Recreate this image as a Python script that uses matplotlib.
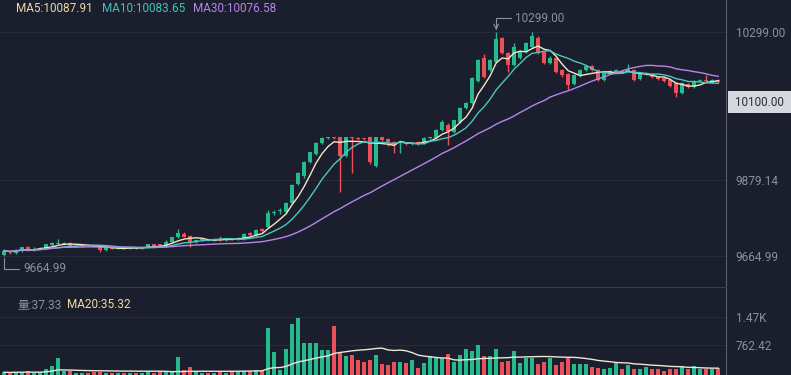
import numpy as np
import pandas as pd
import matplotlib
matplotlib.use("Agg")
import matplotlib.pyplot as plt

# OHLC + volume (one entry per candle)
opens = [9668, 9680, 9674, 9681, 9692, 9683, 9686, 9686, 9697, 9699,
         9699, 9702, 9692, 9694, 9696, 9695, 9694, 9683, 9690, 9686,
         9688, 9686, 9690, 9687, 9689, 9698, 9698, 9694, 9704, 9718,
         9728, 9722, 9704, 9710, 9712, 9710, 9713, 9711, 9714, 9713,
         9714, 9730, 9724, 9742, 9748, 9788, 9792, 9790, 9815, 9868,
         9890, 9930, 9952, 9985, 9999, 10000, 10000, 9948, 10000, 9998,
         9996, 10000, 9920, 10000, 9996, 9988, 9985, 9984, 9982, 9986,
         9985, 9999, 9998, 10020, 10035, 10015, 10045, 10082, 10097, 10160,
         10224, 10190, 10212, 10280, 10238, 10205, 10225, 10240, 10255, 10282,
         10240, 10210, 10225, 10190, 10180, 10150, 10175, 10190, 10202, 10190,
         10162, 10182, 10185, 10186, 10188, 10190, 10165, 10179, 10180, 10170,
         10168, 10162, 10155, 10125, 10150, 10142, 10158, 10161, 10155, 10162]
closes = [9680, 9676, 9683, 9690, 9682, 9686, 9688, 9698, 9702, 9703,
          9702, 9692, 9694, 9697, 9695, 9692, 9682, 9690, 9686, 9688,
          9687, 9690, 9687, 9689, 9698, 9695, 9693, 9704, 9718, 9731,
          9720, 9705, 9710, 9712, 9710, 9713, 9711, 9714, 9713, 9716,
          9728, 9724, 9740, 9735, 9787, 9790, 9795, 9815, 9865, 9900,
          9932, 9958, 9985, 9998, 10000, 9999, 9948, 10000, 9999, 9997,
          9995, 9930, 10000, 9992, 9988, 9978, 9986, 9982, 9985, 9983,
          9998, 10000, 10022, 10043, 10018, 10048, 10083, 10097, 10168, 10218,
          10170, 10218, 10278, 10238, 10205, 10255, 10242, 10268, 10285, 10240,
          10210, 10225, 10185, 10175, 10148, 10175, 10190, 10202, 10190, 10162,
          10183, 10188, 10190, 10185, 10189, 10162, 10178, 10180, 10170, 10165,
          10160, 10145, 10125, 10153, 10142, 10160, 10163, 10160, 10162, 10157]
highs = [9684, 9683, 9686, 9692, 9694, 9690, 9691, 9700, 9706, 9714,
         9705, 9704, 9696, 9699, 9699, 9697, 9696, 9692, 9692, 9690,
         9690, 9692, 9692, 9691, 9700, 9700, 9700, 9712, 9720, 9742,
         9732, 9724, 9712, 9714, 9714, 9715, 9722, 9716, 9716, 9718,
         9730, 9732, 9742, 9744, 9795, 9796, 9800, 9818, 9868, 9903,
         9935, 9960, 9988, 10001, 10002, 10002, 10002, 10002, 10002, 10001,
         9999, 10002, 10002, 10002, 9998, 9990, 9990, 9988, 9987, 9989,
         10000, 10002, 10025, 10050, 10040, 10050, 10085, 10100, 10172, 10222,
         10235, 10222, 10299, 10284, 10240, 10266, 10246, 10270, 10297, 10286,
         10243, 10230, 10228, 10192, 10182, 10178, 10193, 10205, 10205, 10193,
         10186, 10191, 10193, 10190, 10208, 10193, 10181, 10184, 10182, 10172,
         10170, 10164, 10157, 10156, 10153, 10162, 10166, 10175, 10164, 10164]
lows = [9664.99, 9672, 9672, 9678, 9680, 9680, 9684, 9684, 9695, 9698,
        9696, 9690, 9690, 9692, 9693, 9690, 9676, 9681, 9684, 9685,
        9685, 9684, 9685, 9685, 9687, 9693, 9690, 9692, 9702, 9716,
        9718, 9690, 9702, 9708, 9708, 9708, 9709, 9709, 9711, 9711,
        9712, 9722, 9722, 9732, 9745, 9782, 9785, 9787, 9812, 9865,
        9886, 9928, 9950, 9982, 9997, 9997, 9846, 9945, 9900, 9994,
        9992, 9926, 9916, 9990, 9975, 9955, 9955, 9978, 9978, 9980,
        9983, 9997, 9996, 10018, 9980, 10012, 10042, 10080, 10095, 10157,
        10167, 10188, 10210, 10235, 10185, 10203, 10222, 10238, 10252, 10237,
        10206, 10207, 10182, 10172, 10134, 10147, 10172, 10188, 10187, 10159,
        10160, 10180, 10183, 10182, 10185, 10159, 10163, 10177, 10167, 10162,
        10157, 10142, 10115, 10122, 10139, 10140, 10156, 10157, 10153, 10154]
volumes = [70, 60, 80, 70, 90, 60, 70, 140, 240, 420,
           100, 100, 60, 50, 60, 70, 80, 60, 50, 60,
           50, 60, 50, 60, 70, 60, 80, 70, 90, 450,
           120, 210, 80, 60, 50, 60, 70, 60, 70, 80,
           90, 100, 130, 100, 1180, 570, 130, 660, 1300, 1440,
           800, 800, 800, 640, 620, 1230, 590, 470, 500, 380,
           320, 380, 500, 280, 250, 320, 320, 300, 380, 180,
           300, 470, 420, 420, 530, 330, 500, 660, 600, 750,
           470, 480, 660, 330, 350, 600, 300, 440, 440, 280,
           320, 430, 250, 330, 440, 280, 280, 280, 210, 180,
           140, 180, 300, 140, 250, 160, 140, 200, 160, 160,
           110, 160, 160, 220, 160, 220, 140, 150, 140, 170]

price_ticks = [10299.00, 9879.14, 9664.99]
price_tick_labels = ["10299.00", "9879.14", "9664.99"]
vol_ticks = [1470, 762.42]
vol_tick_labels = ["1.47K", "762.42"]

BG = "#1b1e2c"
GREEN = "#26b98c"
RED = "#e9505a"
GRID = "#262a3a"
TXT = "#8c909c"

df = pd.DataFrame({"open": opens, "close": closes, "high": highs, "low": lows, "vol": volumes})
x = np.arange(len(df))
up = df["close"] >= df["open"]
colors = np.where(up, GREEN, RED)
ma5 = df["close"].rolling(5, min_periods=1).mean()
ma10 = df["close"].rolling(10, min_periods=1).mean()
ma30 = df["close"].rolling(30, min_periods=1).mean()
vma20 = df["vol"].rolling(20, min_periods=1).mean()

W, H = 791, 375
fig = plt.figure(figsize=(W / 100, H / 100), dpi=100, facecolor=BG)
plot_w = 726 / W
ax = fig.add_axes([0, 88 / H, plot_w, 287 / H], facecolor=BG)
axv = fig.add_axes([0, 0, plot_w, 87 / H], facecolor=BG)

# candles
body_lo = np.minimum(df["open"], df["close"])
body_h = np.maximum((df["close"] - df["open"]).abs(), 2.5)
ax.vlines(x, df["low"], df["high"], colors=colors, linewidth=1, zorder=2)
ax.bar(x, body_h, bottom=body_lo, width=0.65, color=colors, linewidth=0, zorder=3)
ax.plot(x, ma5, color="#f2e6c4", lw=1, zorder=4)
ax.plot(x, ma10, color="#4cc7bf", lw=1, zorder=4)
ax.plot(x, ma30, color="#b886ea", lw=1, zorder=4)

ax.set_xlim(-0.67, 120.3)
ax.set_ylim(9578, 10388)
ax.set_yticks(price_ticks)
ax.set_yticklabels(price_tick_labels)
ax.grid(axis="y", color=GRID, lw=0.8)
ax.set_xticks([])

# volume
axv.bar(x, df["vol"], width=0.65, color=colors, linewidth=0, zorder=3)
axv.plot(x, vma20, color="#ece6d6", lw=1, zorder=4)
axv.set_xlim(-0.67, 120.3)
axv.set_ylim(0, 2200)
axv.set_yticks(vol_ticks)
axv.set_yticklabels(vol_tick_labels)
axv.grid(axis="y", color=GRID, lw=0.8)
axv.set_xticks([])

for a in (ax, axv):
    a.yaxis.tick_right()
    a.tick_params(axis="y", length=0, pad=7, labelsize=8.5, labelcolor=TXT)
    for lab in a.get_yticklabels():
        lab.set_family("Roboto")
    for s in ("top", "left"):
        a.spines[s].set_visible(False)
    a.spines["right"].set_color("#5a5e6b")
    a.spines["bottom"].set_color("#3a3e4c")
    a.set_axisbelow(True)
axv.spines["bottom"].set_visible(False)

# high / low markers
hi = int(np.argmax(highs))
lo = int(np.argmin(lows))
ax.annotate(f"{highs[hi]:.2f}", xy=(hi, highs[hi]), xytext=(hi + 3.2, 10337),
            color=TXT, fontsize=8.5, family="Roboto", va="center",
            arrowprops=dict(arrowstyle="->", color=TXT, lw=0.8, shrinkA=1, shrinkB=1,
                            connectionstyle="angle,angleA=0,angleB=90,rad=0"))
ax.annotate(f"{lows[lo]:.2f}", xy=(lo, lows[lo]), xytext=(lo + 3.2, 9630),
            color=TXT, fontsize=8.5, family="Roboto", va="center",
            arrowprops=dict(arrowstyle="-", color=TXT, lw=0.8, shrinkA=1, shrinkB=1,
                            connectionstyle="angle,angleA=0,angleB=90,rad=0"))

# current price box on the axis
ax.text(1.008, 10100, " 10100.00 ", transform=ax.get_yaxis_transform(), color="#2a2d38",
        fontsize=8.5, family="Roboto", va="center", ha="left", clip_on=False,
        bbox=dict(boxstyle="square,pad=0.35", fc="#d6d8de", ec="none"))

# legends
def ftext(px, py, s, c, fam="Roboto"):
    fig.text(px / W, 1 - py / H, s, color=c, fontsize=8.5, family=fam, va="center", ha="left")

ftext(16, 9, "MA5:10087.91", "#ead9a4")
ftext(102, 9, "MA10:10083.65", "#3fc3b8")
ftext(193, 9, "MA30:10076.58", "#b883e8")
ftext(17, 305, "量:37.33", TXT, ["Roboto", "Noto Sans CJK SC"])
ftext(67, 305, "MA20:35.32", "#f0dc9c")

fig.savefig("out.png", dpi=100, facecolor=BG)
